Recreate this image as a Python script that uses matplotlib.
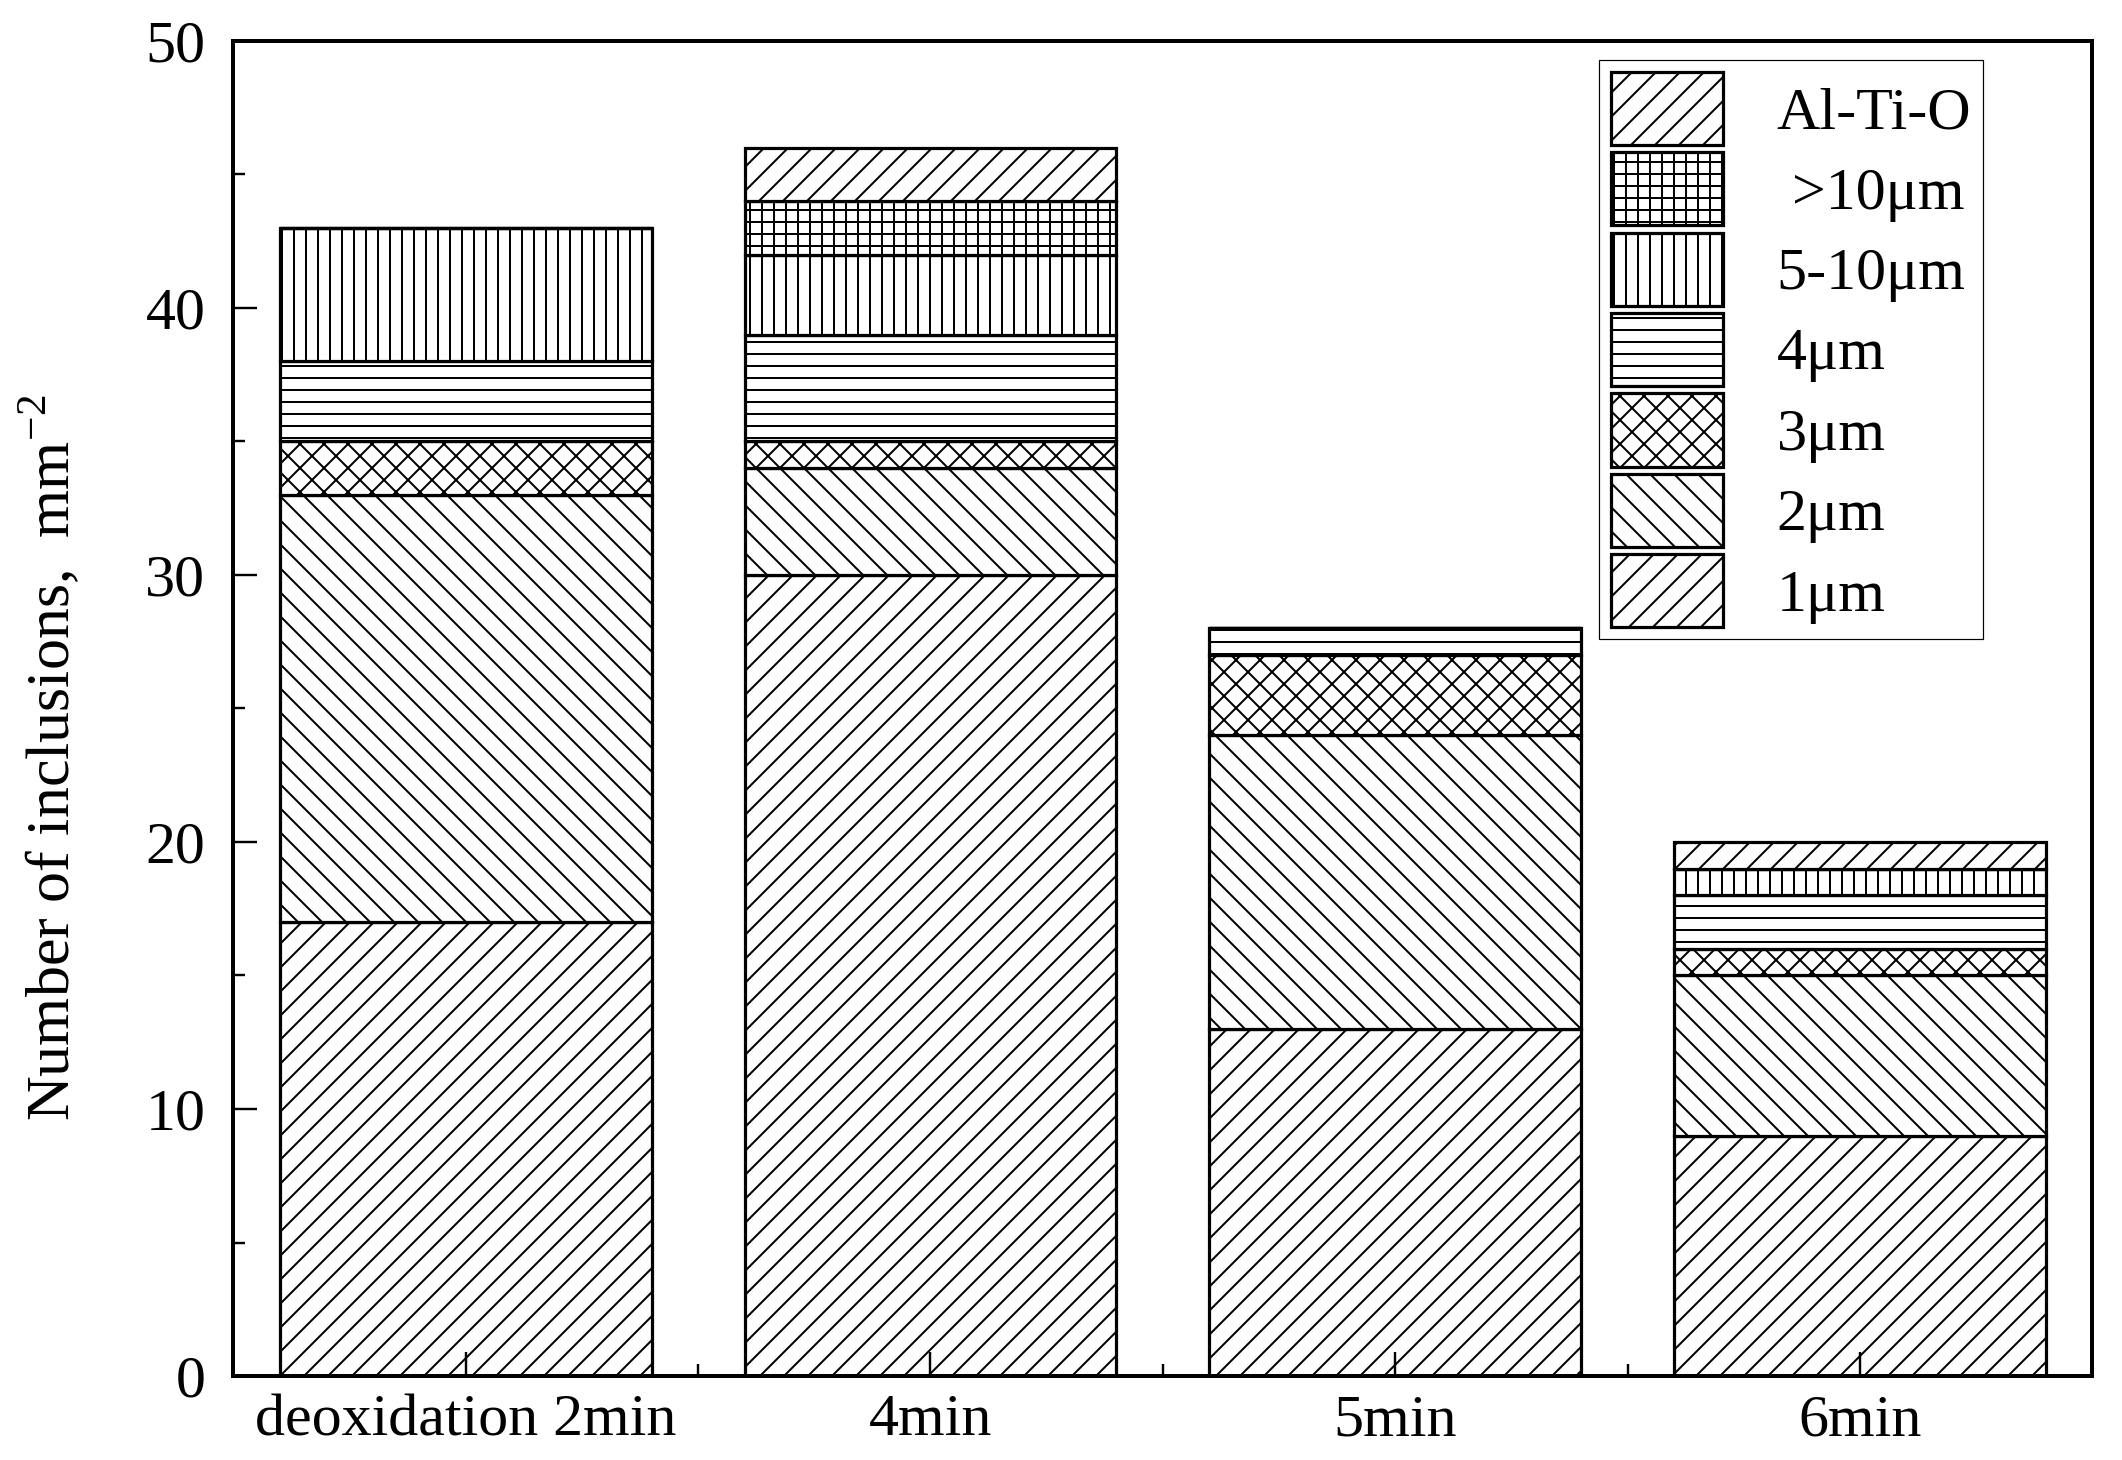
import numpy as np
import matplotlib.pyplot as plt

plt.rcParams['font.family'] = ['Liberation Serif', 'DejaVu Serif']
plt.rcParams['mathtext.fontset'] = 'custom'
plt.rcParams['mathtext.rm'] = 'Liberation Serif'
plt.rcParams['hatch.linewidth'] = 1.0

stages = ['deoxidation 2min', '4min', '5min', '6min']
sizes = ['1\u03bcm', '2\u03bcm', '3\u03bcm', '4\u03bcm', '5-10\u03bcm', ' >10\u03bcm', 'Al-Ti-O']
hatches = ['//', '\\\\', 'xx', '--', '||', '++', '//']

n_1um = [17, 30, 13, 9]
n_2um = [16, 4, 11, 6]
n_3um = [2, 1, 3, 1]
n_4um = [3, 4, 1, 2]
n_5_10um = [5, 3, 0, 1]
n_gt10um = [0, 2, 0, 0]
n_alti = [0, 2, 0, 1]
series = [n_1um, n_2um, n_3um, n_4um, n_5_10um, n_gt10um, n_alti]

fig = plt.figure(figsize=(2122 / 144, 1460 / 144), dpi=144)
ax = fig.add_axes([0.110, 0.0575, 0.876, 0.9145])

x = np.arange(len(stages))
bottom = np.zeros(len(stages))
handles = []
for vals, lab, h in zip(series, sizes, hatches):
    b = ax.bar(x, vals, 0.8, bottom=bottom, color='white', edgecolor='black',
               linewidth=1.6, hatch=h, label=lab)
    handles.append(b)
    bottom += np.array(vals)

ax.set_xlim(-0.5, 3.5)
ax.set_ylim(0, 50)
ax.set_xticks(x)
ax.set_xticklabels(stages)
ax.set_xticks([0.5, 1.5, 2.5], minor=True)
ax.set_yticks(range(0, 51, 10))
ax.set_yticks(range(5, 50, 10), minor=True)
ax.tick_params(axis='both', which='major', direction='in', length=12, width=1.2, labelsize=30)
ax.tick_params(axis='both', which='minor', direction='in', length=6, width=1.2)
ax.tick_params(axis='y', which='major', pad=14)
ax.tick_params(axis='x', which='major', pad=9)
for s in ax.spines.values():
    s.set_linewidth(2)

ax.set_ylabel('Number of inclusions,  mm$^{-2}$', fontsize=31)
ax.yaxis.set_label_coords(-0.081, 0.463)

leg = ax.legend(handles[::-1], sizes[::-1], loc='upper right', bbox_to_anchor=(0.9414, 0.9858),
                borderaxespad=0, fontsize=30, handlelength=1.87, handleheight=1.5,
                labelspacing=0.12, handletextpad=0.9, borderpad=0.2, fancybox=False,
                edgecolor='black', framealpha=1)
leg.get_frame().set_linewidth(0.6)

fig.savefig('out.png', dpi=144)
